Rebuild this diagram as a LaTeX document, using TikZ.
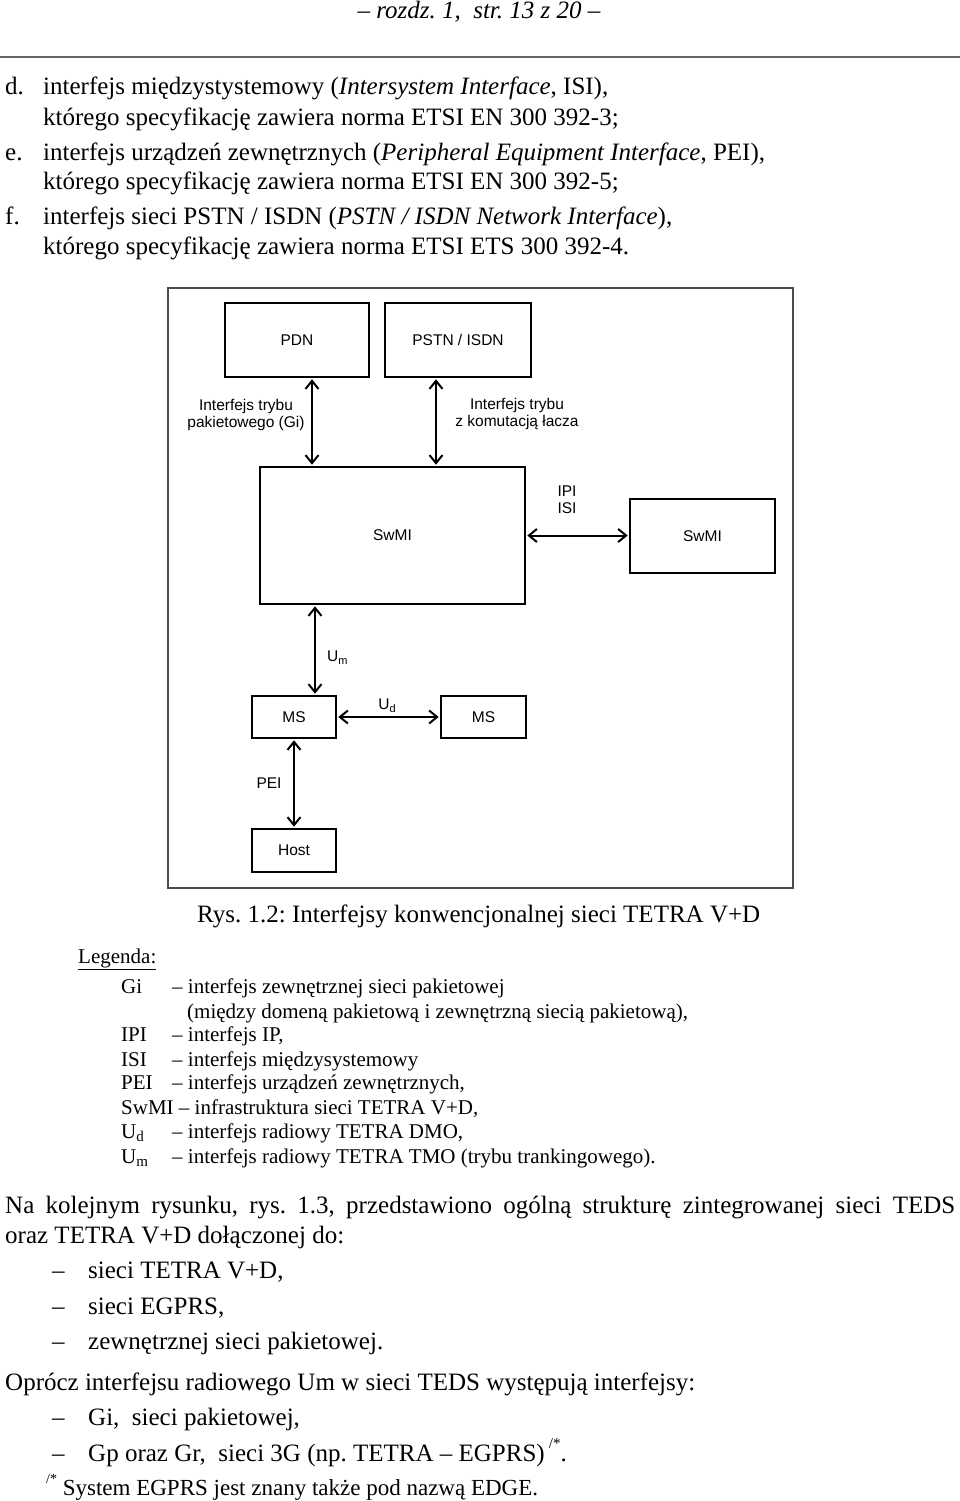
\documentclass[tikz,border=0pt]{standalone}
\usepackage{fontspec}
\setmainfont{Liberation Serif}
\newfontfamily\diasans{Liberation Sans}
\usetikzlibrary{arrows.meta}
\frenchspacing
\newcommand\bodyf{\fontsize{25}{29}\selectfont}
\newcommand\fnf{\fontsize{23}{27}\selectfont}
\newcommand\legf{\fontsize{21}{24}\selectfont}
\newcommand\diaf{\diasans\fontsize{15.5}{17}\selectfont}
\newcommand\subd[1]{\raisebox{-0.35ex}{\fontsize{11}{11}\selectfont #1}}
\newcommand\legsub[1]{\raisebox{-0.4ex}{\fontsize{15}{15}\selectfont #1}}
\begin{document}
\begin{tikzpicture}[x=1pt,y=-1pt,
  txt/.style={anchor=base west, inner sep=0pt, font=\bodyf},
  leg/.style={anchor=base west, inner sep=0pt, font=\legf},
  box/.style={draw, line width=1.6pt, inner sep=0pt, font=\diaf},
  lab/.style={inner sep=0pt, font=\diaf, align=center},
  dar/.style={{Straight Barb[length=8pt,width=13pt]}-{Straight Barb[length=8pt,width=13pt]}, line width=2pt, shorten >=1.5pt, shorten <=1.5pt},
  frame/.style={draw=black!70, line width=2pt}]
\useasboundingbox (0,0) rectangle (960,1501);
% header
\node[anchor=base, inner sep=0pt, font=\bodyf\itshape] (hdr) at (479,19) {– rozdz. 1,\ \ str. 13 z 20 –};
\draw[black!60, line width=2pt] (0,57.5) -- (960,57.5);
% list
\node[txt] (ld) at (5,95) {d.};
\node[txt] (ld1) at (43,95) {interfejs międzystystemowy (\textit{Intersystem Interface}, ISI),};
\node[txt] (ld2) at (43,125) {którego specyfikację zawiera norma ETSI EN 300 392-3;};
\node[txt] (le) at (5,160) {e.};
\node[txt] (le1) at (43,160) {interfejs urządzeń zewnętrznych (\textit{Peripheral Equipment Interface}, PEI),};
\node[txt] (le2) at (43,189) {którego specyfikację zawiera norma ETSI EN 300 392-5;};
\node[txt] (lf) at (5,224) {f.};
\node[txt] (lf1) at (43,224) {interfejs sieci PSTN / ISDN (\textit{PSTN / ISDN Network Interface}),};
\node[txt] (lf2) at (43,254) {którego specyfikację zawiera norma ETSI ETS 300 392-4.};
% diagram frame
\draw[frame] (168,288) rectangle (793,888);
% boxes
\node[box, minimum width=144pt, minimum height=74pt] (pdn) at (297,340) {PDN};
\node[box, minimum width=146pt, minimum height=74pt] (pstn) at (458,340) {PSTN / ISDN};
\node[box, minimum width=265pt, minimum height=137pt] (swmi) at (392.5,535.5) {SwMI};
\node[box, minimum width=145pt, minimum height=74pt] (swmi2) at (702.5,536) {SwMI};
\node[box, minimum width=84pt, minimum height=42pt] (ms1) at (294,717) {MS};
\node[box, minimum width=85pt, minimum height=42pt] (ms2) at (483.5,717) {MS};
\node[box, minimum width=84pt, minimum height=43pt] (host) at (294,850.5) {Host};
% connectors
\coordinate (a1) at ([xshift=15pt]pdn.south);
\coordinate (a2) at ([xshift=-22pt]pstn.south);
\coordinate (a3) at ([xshift=-77.5pt]swmi.south);
\draw[dar] (a1) -- (a1 |- swmi.north);
\draw[dar] (a2) -- (a2 |- swmi.north);
\draw[dar] (swmi.east) -- (swmi.east -| swmi2.west);
\draw[dar] (a3) -- (a3 |- ms1.north);
\draw[dar] (ms1.east) -- (ms2.west);
\draw[dar] (ms1.south) -- (host.north);
% labels
\node[lab] (lgi) at (246,415) {Interfejs trybu\\pakietowego (Gi)};
\node[lab] (lck) at (517,414) {Interfejs trybu\\z komutacją łacza};
\node[lab] (lipi) at (567,500) {IPI\\ISI};
\node[lab, anchor=west] (lum) at (327,658) {U\subd{m}};
\node[lab] (lud) at (387,706) {U\subd{d}};
\node[lab] (lpei) at (269,783) {PEI};
% caption
\node[txt] (cap) at (197,922) {Rys. 1.2: Interfejsy konwencjonalnej sieci TETRA V+D};
% legend
\node[leg] (lgd) at (78,963) {\underline{Legenda:}};
\node[leg] (g1a) at (121,993) {Gi};
\node[leg] (g1b) at (172,993) {– interfejs zewnętrznej sieci pakietowej};
\node[leg] (g1c) at (187,1018) {(między domeną pakietową i zewnętrzną siecią pakietową),};
\node[leg] (g2a) at (121,1041) {IPI};
\node[leg] (g2b) at (172,1041) {– interfejs IP,};
\node[leg] (g3a) at (121,1066) {ISI};
\node[leg] (g3b) at (172,1066) {– interfejs międzysystemowy};
\node[leg] (g4a) at (121,1089) {PEI};
\node[leg] (g4b) at (172,1089) {– interfejs urządzeń zewnętrznych,};
\node[leg] (g5a) at (121,1114) {SwMI – infrastruktura sieci TETRA V+D,};
\node[leg] (g6a) at (121,1138) {U\legsub{d}};
\node[leg] (g6b) at (172,1138) {– interfejs radiowy TETRA DMO,};
\node[leg] (g7a) at (121,1163) {U\legsub{m}};
\node[leg] (g7b) at (172,1163) {– interfejs radiowy TETRA TMO (trybu trankingowego).};
% bottom text
\node[txt] (p1) at (5,1213) {\makebox[950pt][s]{Na kolejnym rysunku, rys. 1.3, przedstawiono ogólną strukturę zintegrowanej sieci TEDS}};
\node[txt] (p2) at (5,1243) {oraz TETRA V+D dołączonej do:};
\node[txt] (b1d) at (52,1278) {–};
\node[txt] (b1) at (88,1278) {sieci TETRA V+D,};
\node[txt] (b2d) at (52,1314) {–};
\node[txt] (b2) at (88,1314) {sieci EGPRS,};
\node[txt] (b3d) at (52,1349) {–};
\node[txt] (b3) at (88,1349) {zewnętrznej sieci pakietowej.};
\node[txt] (p3) at (5,1390) {Oprócz interfejsu radiowego Um w sieci TEDS występują interfejsy:};
\node[txt] (c1d) at (52,1425) {–};
\node[txt] (c1) at (88,1425) {Gi,\ \ sieci pakietowej,};
\node[txt] (c2d) at (52,1461) {–};
\node[txt] (c2) at (88,1461) {Gp oraz Gr,\ \ sieci 3G (np. TETRA – EGPRS)\,\raisebox{1.1ex}{\fontsize{15}{15}\selectfont /*}.};
\node[anchor=base west, inner sep=0pt, font=\fnf] (fn) at (46,1495) {\raisebox{1.1ex}{\fontsize{14}{14}\selectfont /*} System EGPRS jest znany także pod nazwą EDGE.};
\end{tikzpicture}
\end{document}
